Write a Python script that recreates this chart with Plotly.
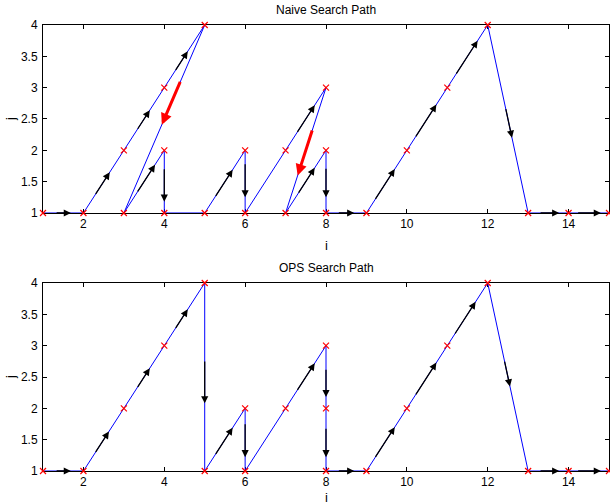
import plotly.graph_objects as go

# ---- data ----
naive_i = [1, 2, 3, 4, 5, 3, 4, 4, 5, 6, 6, 7, 8, 7, 8, 8, 9, 10, 11, 12, 13, 14, 15]
naive_j = [1, 1, 2, 3, 4, 1, 2, 1, 1, 2, 1, 2, 3, 1, 2, 1, 1, 2, 3, 4, 1, 1, 1]
ops_i = [1, 2, 3, 4, 5, 5, 6, 6, 7, 8, 8, 8, 9, 10, 11, 12, 13, 14, 15]
ops_j = [1, 1, 2, 3, 4, 1, 2, 1, 2, 3, 2, 1, 1, 2, 3, 4, 1, 1, 1]

# arrows: (path segment index, start fraction, end fraction, highlighted)
naive_arrows = [(0, .30, .69, 0), (1, .28, .65, 0), (2, .32, .64, 0), (3, .26, .58, 0),
                (4, .295, .53, 1), (5, .32, .77, 0), (6, .28, .82, 0), (8, .25, .69, 0),
                (9, .20, .75, 0), (11, .27, .72, 0), (12, .33, .70, 1), (13, .30, .72, 0),
                (14, .27, .75, 0), (15, .28, .70, 0), (16, .20, .70, 0), (17, .20, .73, 0),
                (18, .20, .75, 0), (19, .44, .60, 0), (20, .27, .77, 0), (21, .20, .80, 0)]
ops_arrows = [(0, .30, .69, 0), (1, .28, .63, 0), (2, .32, .64, 0), (3, .26, .58, 0),
              (4, .41, .64, 0), (5, .25, .69, 0), (6, .23, .78, 0), (8, .27, .72, 0),
              (9, .36, .82, 0), (10, .30, .78, 0), (11, .28, .70, 0), (12, .20, .70, 0),
              (13, .20, .73, 0), (14, .17, .70, 0), (15, .41, .55, 0), (16, .27, .77, 0),
              (17, .20, .80, 0)]

titles = ["Naive Search Path", "OPS Search Path"]
x_ticks = [2, 4, 6, 8, 10, 12, 14]
y_ticks = [1, 1.5, 2, 2.5, 3, 3.5, 4]
y_tick_text = ["1", "1.5", "2", "2.5", "3", "3.5", "4"]

FONT = "Liberation Sans, Arial, Helvetica, sans-serif"

fig = go.Figure()
annotations = []

panels = [
    (naive_i, naive_j, naive_arrows, "x", "y"),
    (ops_i, ops_j, ops_arrows, "x2", "y2"),
]
for xs, ys, arrows, xr, yr in panels:
    fig.add_trace(go.Scatter(
        x=xs, y=ys, xaxis=xr, yaxis=yr, mode="lines+markers",
        line=dict(color="#0000ff", width=1),
        marker=dict(symbol="x-thin", size=6, line=dict(color="#ff0000", width=1.2), color="#ff0000"),
        cliponaxis=False, showlegend=False, hoverinfo="skip",
    ))
    for seg, t0, t1, hl in arrows:
        xa, ya = xs[seg], ys[seg]
        xb, yb = xs[seg + 1], ys[seg + 1]
        annotations.append(dict(
            xref=xr, yref=yr, axref=xr, ayref=yr,
            x=xa + (xb - xa) * t1, y=ya + (yb - ya) * t1,
            ax=xa + (xb - xa) * t0, ay=ya + (yb - ya) * t0,
            text="", showarrow=True,
            arrowhead=2,
            arrowcolor="#ff0000" if hl else "#000000",
            arrowwidth=3 if hl else 1.3,
            arrowsize=0.75 if hl else 1.1,
            standoff=0, startstandoff=0,
        ))

# titles and axis labels (paper coords)
title_y = [1.0336, 0.4552]
xlab_y = [0.5067, -0.0583]
ylab_y = [0.7892, 0.2107]
for k in range(2):
    annotations.append(dict(xref="paper", yref="paper", x=0.5, y=title_y[k], text=titles[k],
                            showarrow=False, font=dict(family=FONT, size=12, color="black"),
                            xanchor="center", yanchor="middle"))
    annotations.append(dict(xref="paper", yref="paper", x=0.5, y=xlab_y[k], text="i",
                            showarrow=False, font=dict(family=FONT, size=13, color="black"),
                            xanchor="center", yanchor="middle"))
    annotations.append(dict(xref="paper", yref="paper", x=-0.0583, y=ylab_y[k], text="j",
                            showarrow=False, textangle=-90,
                            font=dict(family=FONT, size=13, color="black"),
                            xanchor="center", yanchor="middle"))

axis_common = dict(showline=True, linecolor="black", linewidth=1, mirror="allticks",
                   ticks="inside", ticklen=4, tickcolor="black", showgrid=False,
                   zeroline=False, layer="below traces",
                   tickfont=dict(family=FONT, size=12, color="black"))

fig.update_layout(
    width=610, height=504,
    margin=dict(l=43, r=1, t=25, b=33, autoexpand=False),
    paper_bgcolor="white", plot_bgcolor="white",
    xaxis=dict(domain=[0, 1], anchor="y", range=[1, 15], tickvals=x_ticks, **axis_common),
    yaxis=dict(domain=[0.5785, 1], anchor="x", range=[1, 4], tickvals=y_ticks,
               ticktext=y_tick_text, ticklabelstandoff=2, **axis_common),
    xaxis2=dict(domain=[0, 1], anchor="y2", range=[1, 15], tickvals=x_ticks, **axis_common),
    yaxis2=dict(domain=[0, 0.4215], anchor="x2", range=[1, 4], tickvals=y_ticks,
                ticktext=y_tick_text, ticklabelstandoff=2, **axis_common),
    annotations=annotations,
)

fig.write_html("out.html",
               config={"displayModeBar": False, "staticPlot": True},
               post_script="document.body.style.margin='0';document.body.style.overflow='hidden';")
